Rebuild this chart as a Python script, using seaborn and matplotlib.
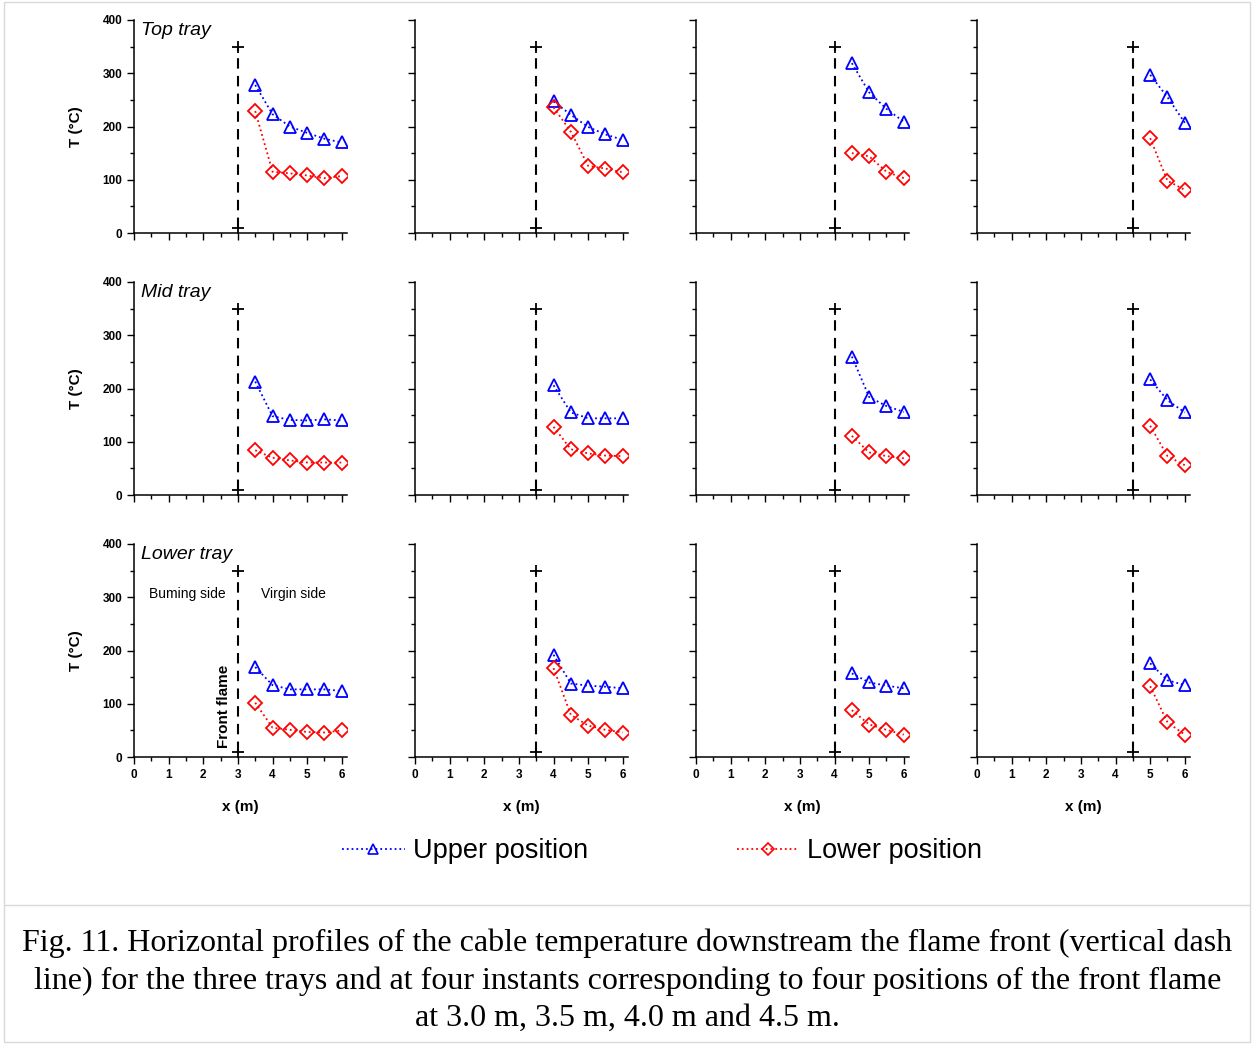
import numpy as np
import pandas as pd
import matplotlib.pyplot as plt
from matplotlib.lines import Line2D
from matplotlib.ticker import MultipleLocator
import seaborn as sns

# flame front positions (m) for the four instants
fronts = [3.0, 3.5, 4.0, 4.5]
trays = ["Top tray", "Mid tray", "Lower tray"]

# x positions of thermocouples downstream the front, per instant
x_pos = [
    [3.5, 4.0, 4.5, 5.0, 5.5, 6.0],
    [4.0, 4.5, 5.0, 5.5, 6.0],
    [4.5, 5.0, 5.5, 6.0],
    [5.0, 5.5, 6.0],
]

# temperatures (°C), [tray][instant]
upper_T = [
    [[278, 223, 200, 188, 177, 170], [247, 222, 199, 185, 175], [319, 264, 233, 209], [297, 255, 207]],
    [[213, 148, 141, 140, 142, 140], [206, 155, 144, 144, 144], [260, 184, 167, 156], [217, 178, 155]],
    [[169, 135, 127, 127, 127, 124], [192, 138, 134, 132, 129], [157, 140, 134, 129], [176, 144, 135]],
]
lower_T = [
    [[229, 115, 112, 108, 103, 107], [236, 190, 126, 121, 114], [150, 144, 115, 103], [178, 98, 81]],
    [[84, 70, 65, 61, 61, 61], [128, 86, 78, 74, 73], [111, 80, 73, 69], [130, 73, 56]],
    [[102, 55, 51, 47, 46, 50], [167, 79, 59, 51, 46], [88, 61, 51, 42], [133, 65, 42]],
]

sns.set_style("ticks")
plt.rcParams["font.family"] = ["Liberation Sans", "DejaVu Sans"]
plt.rcParams.update({"text.color": "black", "axes.labelcolor": "black",
                     "xtick.color": "black", "ytick.color": "black"})

W, H = 1252, 1046
fig = plt.figure(figsize=(W / 100, H / 100), dpi=100)

col_left = [134, 415, 696, 977]
row_top = [20, 282, 544]
ax_w, ax_h = 213, 213

for r in range(3):
    for c in range(4):
        ax = fig.add_axes([col_left[c] / W, 1 - (row_top[r] + ax_h) / H, ax_w / W, ax_h / H])
        df = pd.DataFrame({"x": x_pos[c], "upper": upper_T[r][c], "lower": lower_T[r][c]})
        sns.lineplot(data=df, x="x", y="upper", ax=ax, color="blue", linestyle=":", lw=1.3,
                     marker="^", ms=8, mfc="none", mec="blue", mew=1.3)
        sns.lineplot(data=df, x="x", y="lower", ax=ax, color="red", linestyle=":", lw=1.3,
                     marker="D", ms=7, mfc="none", mec="red", mew=1.3)
        # front flame line
        ax.plot([fronts[c], fronts[c]], [10, 350], color="black", ls=(0, (5, 3.5)), lw=1.5,
                marker="+", ms=8, mew=1.3)

        ax.set_xlim(0, 6.15)
        ax.set_ylim(0, 400)
        ax.set_xticks(range(7))
        ax.set_yticks(range(0, 401, 100))
        ax.xaxis.set_minor_locator(MultipleLocator(0.5))
        ax.yaxis.set_minor_locator(MultipleLocator(50))
        ax.tick_params(which="major", length=5, width=1, direction="out", labelsize=8.5)
        ax.tick_params(which="minor", length=3, width=1, direction="out")
        for s in ["left", "bottom"]:
            ax.spines[s].set_linewidth(1.1)
            ax.spines[s].set_color("black")
        sns.despine(ax=ax)
        ax.set_xlabel("")
        ax.set_ylabel("")

        if c == 0:
            ax.set_ylabel("T (°C)", fontsize=11, fontweight="bold", labelpad=14)
            for lab in ax.get_yticklabels():
                lab.set_fontweight("bold")
            ax.text(0.2, 396, trays[r], fontsize=14, style="italic", va="top", ha="left")
        else:
            ax.set_yticklabels([])
        if r == 2:
            ax.set_xlabel("x (m)", fontsize=11, fontweight="bold", labelpad=14)
            for lab in ax.get_xticklabels():
                lab.set_fontweight("bold")
        else:
            ax.set_xticklabels([])

        if r == 2 and c == 0:
            ax.text(1.55, 306, "Buming side", fontsize=10, ha="center", va="center")
            ax.text(4.6, 306, "Virgin side", fontsize=10, ha="center", va="center")
            ax.text(2.6, 17, "Front flame", fontsize=11, fontweight="bold", rotation=90,
                    ha="center", va="bottom")

handles = [
    Line2D([], [], color="blue", ls=":", lw=1.3, marker="^", ms=7, mfc="none", mec="blue", mew=1.2),
    Line2D([], [], color="red", ls=":", lw=1.3, marker="D", ms=6, mfc="none", mec="red", mew=1.2),
]
fig.legend(handles, ["Upper position", "Lower position"], loc="center", ncol=2,
           bbox_to_anchor=(0.529, 1 - 851 / H), frameon=False, fontsize=19.5,
           handlelength=2.3, handletextpad=0.3, columnspacing=5.5, numpoints=1)

# frame and caption
frame_col = "#d9d9d9"
fig.add_artist(plt.Rectangle((4 / W, 4 / H), 1246 / W, 1040 / H, transform=fig.transFigure,
                             fill=False, ec=frame_col, lw=1))
fig.add_artist(Line2D([4 / W, 1250 / W], [1 - 905 / H, 1 - 905 / H], transform=fig.transFigure,
                      color=frame_col, lw=1))
caption = ("Fig. 11. Horizontal profiles of the cable temperature downstream the flame front (vertical dash\n"
           "line) for the three trays and at four instants corresponding to four positions of the front flame\n"
           "at 3.0 m, 3.5 m, 4.0 m and 4.5 m.")
fig.text(0.501, 1 - 981 / H, caption, ha="center", va="center", fontsize=23,
         family=["Liberation Serif", "DejaVu Serif"], linespacing=1.37)

fig.savefig("out.png", dpi=100)
